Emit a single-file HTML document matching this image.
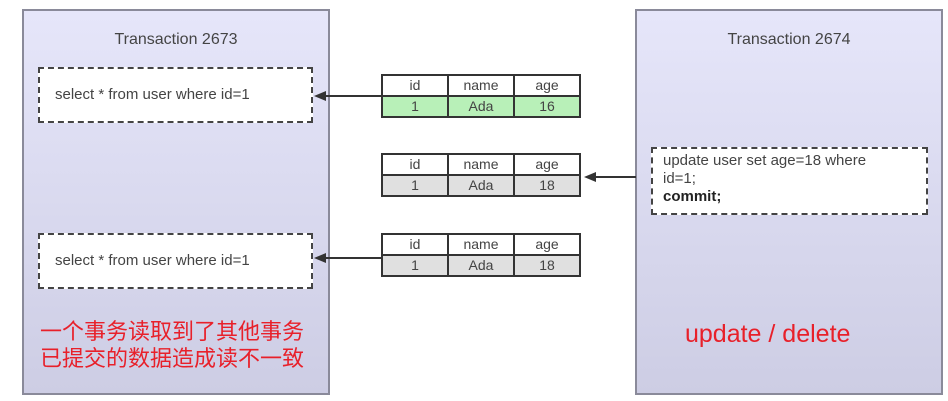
<!DOCTYPE html>
<html><head><meta charset="utf-8"><style>
body{margin:0;width:948px;height:401px;background:#fff;position:relative;overflow:hidden;font-family:"Liberation Sans","Noto Sans CJK SC",sans-serif;color:#333}
.tx{position:absolute;border:2px solid #8a8a9a;background:linear-gradient(#e6e6fa,#cdcde4);box-sizing:border-box}
.title{position:absolute;width:100%;text-align:center;font-size:16px;color:#444}
.dash{position:absolute;border:2px dashed #444;background:#fff;box-sizing:border-box;font-size:15px;color:#444}
table{position:absolute;border-collapse:collapse;font-size:14px;color:#444}
td{border:2px solid #333;width:64px;height:19px;text-align:center;padding:0;line-height:19px}
.line{position:absolute;height:2px;background:#333}
.ah{position:absolute;width:0;height:0;border-top:5px solid transparent;border-bottom:5px solid transparent;border-right:12px solid #333}
.red{position:absolute;color:#e8202a}
</style></head><body>
<div class="tx" style="left:22px;top:9px;width:308px;height:386px">
 <div class="title" style="top:20px">Transaction 2673</div>
</div>
<div class="tx" style="left:635px;top:9px;width:308px;height:386px">
 <div class="title" style="top:20px">Transaction 2674</div>
</div>
<div class="dash" style="left:38px;top:67px;width:275px;height:56px;padding:17px 0 0 15px">select * from user where id=1</div>
<div class="dash" style="left:38px;top:233px;width:275px;height:56px;padding:17px 0 0 15px">select * from user where id=1</div>
<div class="dash" style="left:651px;top:147px;width:277px;height:68px;padding:3px 0 0 10px;line-height:18px">update user set age=18 where<br>id=1;<br><b style="color:#222">commit;</b></div>

<table style="left:381px;top:74px"><tr><td>id</td><td>name</td><td>age</td></tr><tr style="background:#b8f0b8"><td>1</td><td>Ada</td><td>16</td></tr></table>
<table style="left:381px;top:153px"><tr><td>id</td><td>name</td><td>age</td></tr><tr style="background:#e0e0e0"><td>1</td><td>Ada</td><td>18</td></tr></table>
<table style="left:381px;top:233px"><tr><td>id</td><td>name</td><td>age</td></tr><tr style="background:#e0e0e0"><td>1</td><td>Ada</td><td>18</td></tr></table>

<div class="line" style="left:320px;top:95px;width:61px"></div><div class="ah" style="left:314px;top:91px"></div>
<div class="line" style="left:592px;top:176px;width:44px"></div><div class="ah" style="left:584px;top:172px"></div>
<div class="line" style="left:320px;top:257px;width:61px"></div><div class="ah" style="left:314px;top:253px"></div>

<div class="red" style="left:40px;top:318px;font-size:22px;line-height:27px">一个事务读取到了其他事务<br>已提交的数据造成读不一致</div>
<div class="red" style="left:685px;top:320px;font-size:25px">update / delete</div>
</body></html>
